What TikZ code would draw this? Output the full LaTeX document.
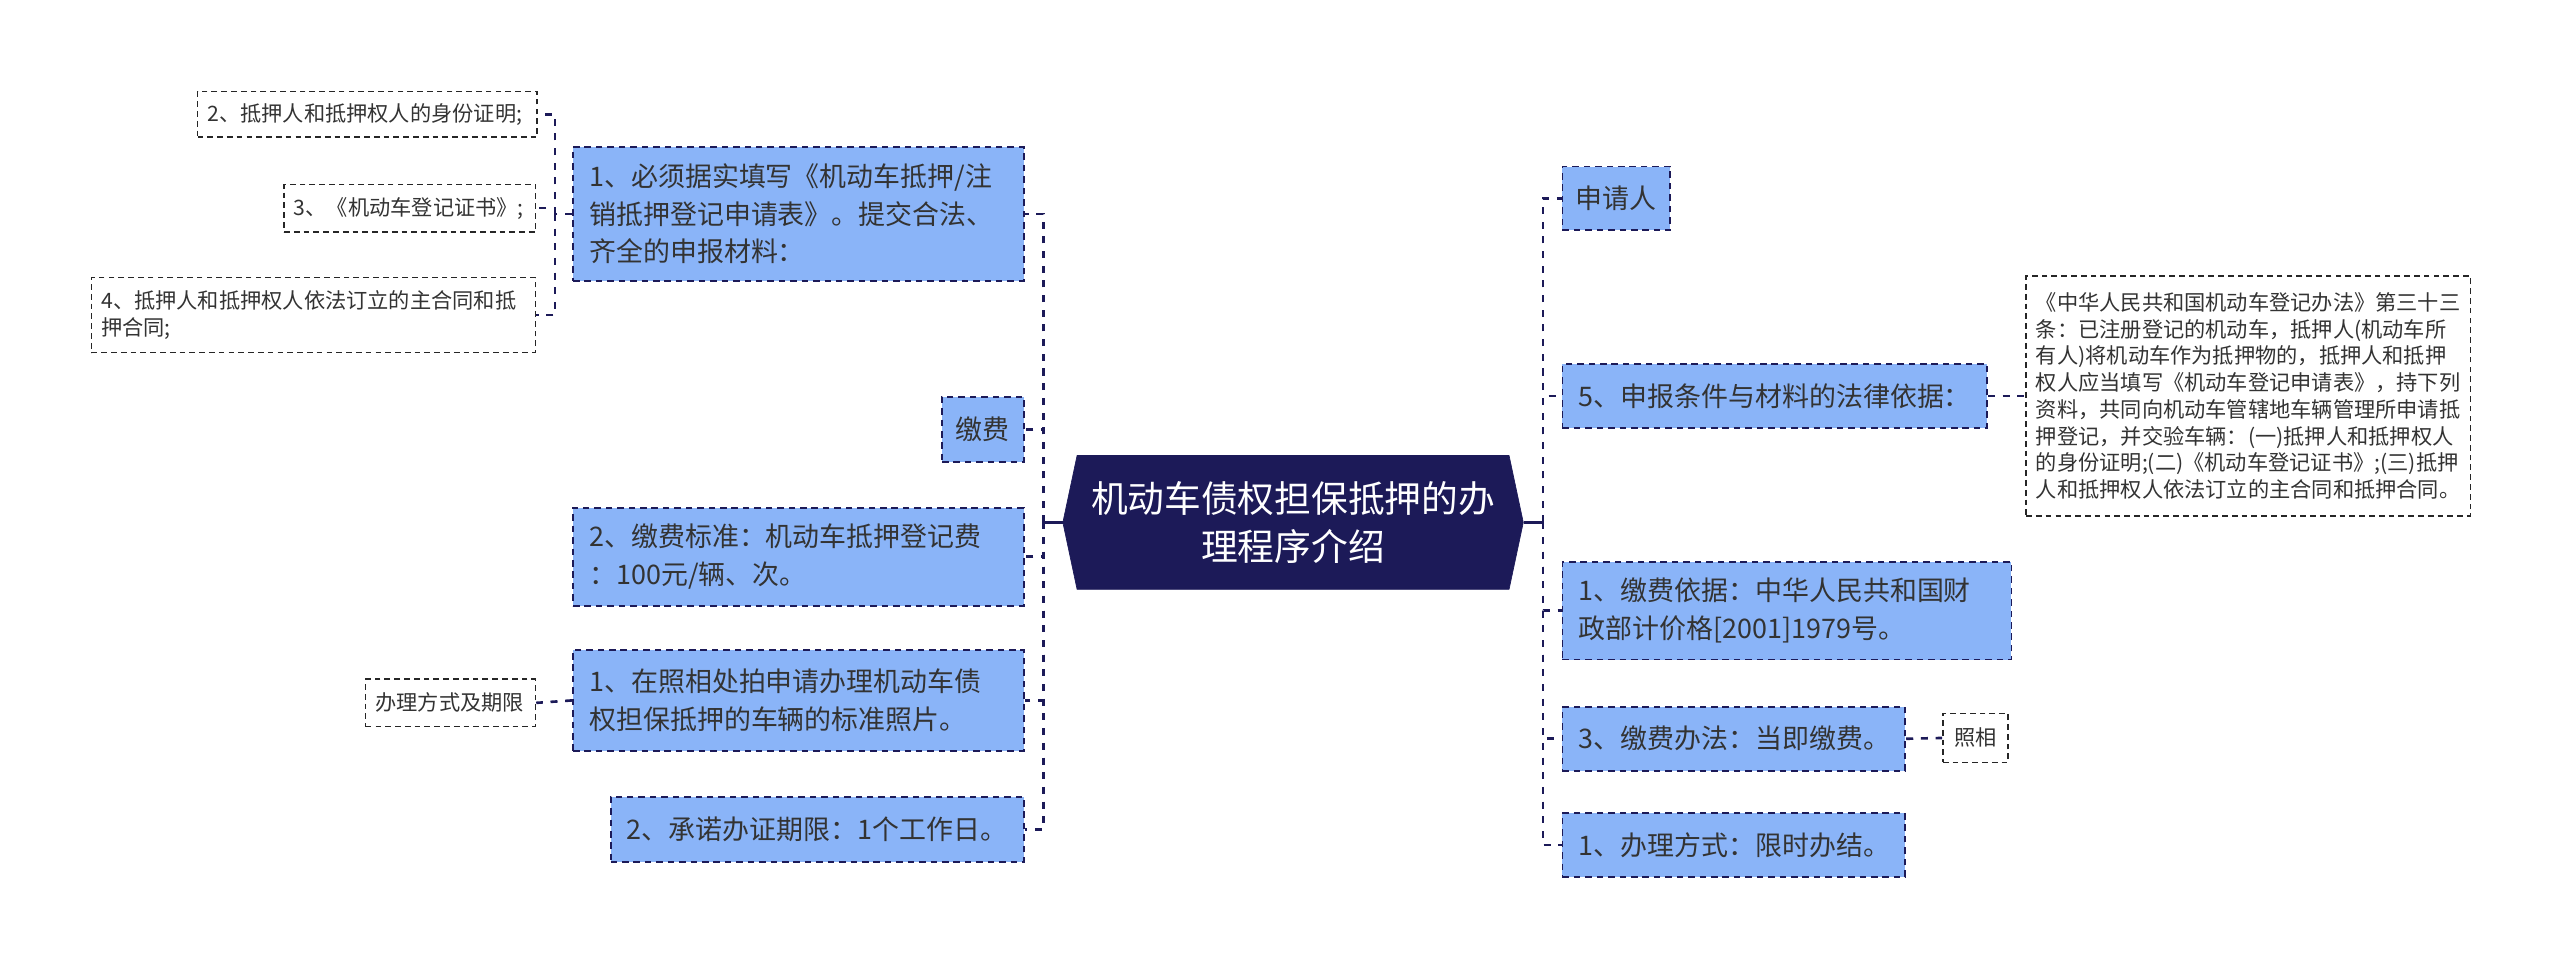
\documentclass[tikz,border=0pt]{standalone}
\usepackage{fontspec}
\setmainfont{Noto Sans CJK SC}
\usepackage{tikz}
\usetikzlibrary{shapes.symbols}
\definecolor{navy}{HTML}{1C1A58}
\definecolor{lightblue}{HTML}{8AB4F8}
\definecolor{textgray}{HTML}{333333}
\definecolor{leafline}{HTML}{262626}

\begin{document}
\begin{tikzpicture}[x=1pt,y=1pt,
    root/.style={shape=signal,signal to=west and east,signal pointer angle=156,fill=navy,draw=navy,text=white,font=\fontsize{22.5}{29}\selectfont,align=center,minimum width=282,minimum height=82,inner sep=0pt},
    topic/.style={draw=navy,dash pattern=on 4pt off 3pt,line width=1.1pt,fill=lightblue,text=textgray,font=\fontsize{16.5}{23}\selectfont,align=left,inner xsep=10pt,inner ysep=0pt},
    leaf/.style={draw=leafline,dash pattern=on 3.5pt off 2.5pt,line width=0.9pt,fill=white,text=textgray,font=\fontsize{13}{16.4}\selectfont,align=left,inner xsep=6pt,inner ysep=0pt},
    link/.style={draw=navy,dash pattern=on 4.3pt off 4.7pt,line width=1.6pt},
    stub/.style={draw=navy,line width=2pt}]

    \useasboundingbox (0,0) rectangle (1568,-593);

    \node[root] (root) at (792,-320) {机动车债权担保抵押的办\\理程序介绍};
    \coordinate (ltrunk) at (639,-320);
    \coordinate (rtrunk) at (945,-320);

    %Left side
    \node[topic,text width=256,minimum height=82] (fill) at (489,-131) {1、必须据实填写《机动车抵押/注\\销抵押登记申请表》。提交合法、\\齐全的申报材料：};
    \node[topic,minimum width=50,minimum height=40,inner xsep=0pt] (fee) at (602,-263) {缴费};
    \node[topic,text width=256,minimum height=60] (standard) at (489,-341) {2、缴费标准：机动车抵押登记费\\：100元/辆、次。};
    \node[topic,text width=256,minimum height=62] (photo) at (489,-429) {1、在照相处拍申请办理机动车债\\权担保抵押的车辆的标准照片。};
    \node[topic,text width=233,minimum height=40] (term) at (500.5,-508) {2、承诺办证期限：1个工作日。};

    \node[leaf,text width=196,minimum height=28] (identity) at (225,-70) {2、抵押人和抵押权人的身份证明;};
    \node[leaf,text width=142,minimum height=29] (certificate) at (251,-127.5) {3、《机动车登记证书》;};
    \node[leaf,text width=260,minimum height=46] (contract) at (192,-193) {4、抵押人和抵押权人依法订立的主合同和抵\\押合同;};
    \node[leaf,text width=92,minimum height=29] (method) at (276,-430.5) {办理方式及期限};
    \coordinate (filltrunk) at (340,-131);

    %Right side
    \node[topic,minimum width=66,minimum height=39,inner xsep=0pt] (applicant) at (990,-121.5) {申请人};
    \node[topic,text width=240,minimum height=39] (basis) at (1087,-242.5) {5、申报条件与材料的法律依据：};
    \node[topic,text width=255,minimum height=60] (feebasis) at (1094.5,-374) {1、缴费依据：中华人民共和国财\\政部计价格[2001]1979号。};
    \node[topic,text width=190,minimum height=39] (payment) at (1062,-452.5) {3、缴费办法：当即缴费。};
    \node[topic,text width=190,minimum height=39] (manner) at (1062,-517.5) {1、办理方式：限时办结。};

    \node[leaf,text width=260,minimum height=147] (law) at (1377,-242.5) {《中华人民共和国机动车登记办法》第三十三\\条：已注册登记的机动车，抵押人(机动车所\\有人)将机动车作为抵押物的，抵押人和抵押\\权人应当填写《机动车登记申请表》，持下列\\资料，共同向机动车管辖地车辆管理所申请抵\\押登记，并交验车辆：(一)抵押人和抵押权人\\的身份证明;(二)《机动车登记证书》;(三)抵押\\人和抵押权人依法订立的主合同和抵押合同。};
    \node[leaf,minimum width=40,minimum height=30,inner xsep=0pt] (camera) at (1210,-452) {照相};

    \draw[stub] (root.west) -- (ltrunk);
    \draw[stub] (root.east) -- (rtrunk);

    \draw[link] (ltrunk) |- (fill.east);
    \draw[link] (ltrunk) |- (fee.east);
    \draw[link] (ltrunk) |- (standard.east);
    \draw[link] (ltrunk) |- (photo.east);
    \draw[link] (ltrunk) |- (term.east);

    \draw[link] (fill.west) -- (filltrunk);
    \draw[link] (filltrunk) |- (identity.east);
    \draw[link] (filltrunk) |- (certificate.east);
    \draw[link] (filltrunk) |- (contract.east);
    \draw[link] (photo.west) -- (method.east);

    \draw[link] (rtrunk) |- (applicant.west);
    \draw[link] (rtrunk) |- (basis.west);
    \draw[link] (rtrunk) |- (feebasis.west);
    \draw[link] (rtrunk) |- (payment.west);
    \draw[link] (rtrunk) |- (manner.west);

    \draw[link] (basis.east) -- (law.west);
    \draw[link] (payment.east) -- (camera.west);

\end{tikzpicture}
\end{document}
